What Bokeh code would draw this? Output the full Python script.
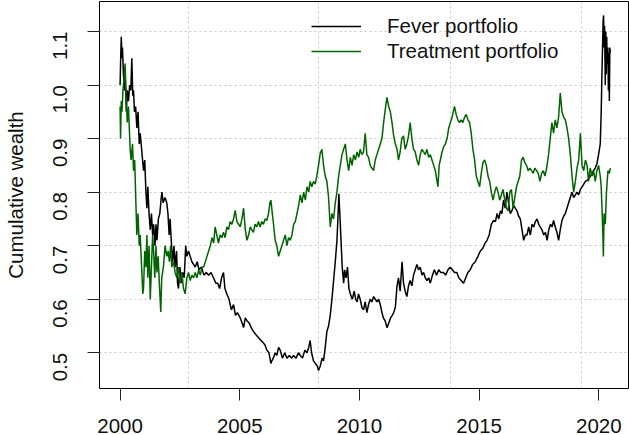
import math
from bokeh.plotting import figure
from bokeh.models import Range1d, FixedTicker, Legend, LegendItem
from bokeh.embed import file_html
from bokeh.resources import INLINE

# ---------------- data ----------------
fever_year = [
    2000.00, 2000.03, 2000.05, 2000.08, 2000.10, 2000.14, 2000.18, 2000.22, 2000.26, 2000.30,
    2000.35, 2000.40, 2000.45, 2000.49, 2000.53, 2000.56, 2000.60, 2000.65, 2000.70, 2000.75,
    2000.80, 2000.84, 2000.90, 2000.94, 2000.98, 2001.03, 2001.08, 2001.12, 2001.16, 2001.21,
    2001.26, 2001.31, 2001.36, 2001.40, 2001.46, 2001.50, 2001.54, 2001.60, 2001.66, 2001.72,
    2001.75, 2001.80, 2001.88, 2001.95, 2002.00, 2002.05, 2002.09, 2002.15, 2002.20, 2002.25,
    2002.30, 2002.36, 2002.40, 2002.44, 2002.50, 2002.56, 2002.62, 2002.68, 2002.74, 2002.79,
    2002.86, 2002.93, 2003.00, 2003.07, 2003.14, 2003.22, 2003.30, 2003.40, 2003.50, 2003.60,
    2003.70, 2003.80, 2003.90, 2004.00, 2004.08, 2004.16, 2004.24, 2004.32, 2004.38, 2004.46,
    2004.55, 2004.65, 2004.74, 2004.82, 2004.90, 2005.02, 2005.10, 2005.16, 2005.23, 2005.30,
    2005.40, 2005.50, 2005.57, 2005.65, 2005.75, 2005.85, 2005.95, 2006.05, 2006.13, 2006.22,
    2006.30, 2006.34, 2006.40, 2006.48, 2006.55, 2006.62, 2006.69, 2006.78, 2006.88, 2006.97,
    2007.07, 2007.17, 2007.25, 2007.35, 2007.45, 2007.53, 2007.62, 2007.72, 2007.81, 2007.88,
    2007.94, 2008.00, 2008.08, 2008.16, 2008.24, 2008.29, 2008.36, 2008.44, 2008.50, 2008.57,
    2008.64, 2008.71, 2008.78, 2008.85, 2008.92, 2008.99, 2009.06, 2009.10, 2009.14, 2009.18,
    2009.22, 2009.28, 2009.34, 2009.38, 2009.44, 2009.50, 2009.56, 2009.62, 2009.70, 2009.78,
    2009.84, 2009.90, 2009.96, 2010.03, 2010.10, 2010.17, 2010.24, 2010.31, 2010.38, 2010.45,
    2010.52, 2010.59, 2010.66, 2010.73, 2010.80, 2010.87, 2010.94, 2011.00, 2011.07, 2011.15,
    2011.22, 2011.30, 2011.37, 2011.43, 2011.50, 2011.57, 2011.63, 2011.70, 2011.78, 2011.84,
    2011.91, 2011.98, 2012.05, 2012.12, 2012.19, 2012.26, 2012.33, 2012.40, 2012.47, 2012.54,
    2012.61, 2012.68, 2012.75, 2012.82, 2012.89, 2012.96, 2013.05, 2013.13, 2013.22, 2013.31,
    2013.40, 2013.51, 2013.60, 2013.70, 2013.79, 2013.88, 2013.97, 2014.07, 2014.15, 2014.25,
    2014.35, 2014.44, 2014.53, 2014.63, 2014.73, 2014.84, 2014.95, 2015.05, 2015.15, 2015.25,
    2015.33, 2015.42, 2015.51, 2015.60, 2015.68, 2015.75, 2015.82, 2015.89, 2015.95, 2016.02,
    2016.09, 2016.16, 2016.23, 2016.30, 2016.37, 2016.44, 2016.51, 2016.58, 2016.65, 2016.72,
    2016.79, 2016.86, 2016.93, 2017.00, 2017.07, 2017.14, 2017.21, 2017.28, 2017.35, 2017.42,
    2017.49, 2017.55, 2017.62, 2017.70, 2017.77, 2017.84, 2017.91, 2017.98, 2018.05, 2018.11,
    2018.18, 2018.25, 2018.32, 2018.39, 2018.46, 2018.53, 2018.60, 2018.67, 2018.74, 2018.81,
    2018.88, 2018.95, 2019.02, 2019.09, 2019.16, 2019.23, 2019.30, 2019.37, 2019.44, 2019.51,
    2019.58, 2019.65, 2019.72, 2019.78, 2019.85, 2019.92, 2019.99, 2020.06, 2020.10, 2020.13,
    2020.16, 2020.18, 2020.20, 2020.22, 2020.24, 2020.27, 2020.29, 2020.31, 2020.33, 2020.35,
    2020.38, 2020.40, 2020.42, 2020.44, 2020.46, 2020.48,
]
fever_wealth = [
    1.00, 1.06, 1.09, 1.05, 1.07, 1.02, 0.99, 1.01, 0.95, 0.99,
    0.97, 1.00, 0.99, 1.05, 0.98, 0.99, 0.95, 0.96, 0.92, 0.95,
    0.89, 0.91, 0.88, 0.86, 0.84, 0.86, 0.80, 0.77, 0.81, 0.76,
    0.73, 0.76, 0.72, 0.74, 0.70, 0.74, 0.71, 0.75, 0.76, 0.79,
    0.80, 0.78, 0.79, 0.78, 0.76, 0.72, 0.75, 0.70, 0.67, 0.70,
    0.66, 0.69, 0.63, 0.62, 0.66, 0.63, 0.65, 0.64, 0.70, 0.68,
    0.69, 0.68, 0.67, 0.665, 0.66, 0.67, 0.655, 0.66, 0.645, 0.65,
    0.645, 0.65, 0.64, 0.63, 0.63, 0.62, 0.64, 0.65, 0.62, 0.61,
    0.60, 0.58, 0.59, 0.57, 0.575, 0.565, 0.555, 0.547, 0.565, 0.56,
    0.555, 0.545, 0.54, 0.535, 0.53, 0.525, 0.52, 0.515, 0.505, 0.50,
    0.48, 0.485, 0.49, 0.50, 0.495, 0.51, 0.505, 0.49, 0.50, 0.49,
    0.495, 0.49, 0.495, 0.49, 0.50, 0.495, 0.49, 0.505, 0.50, 0.51,
    0.523, 0.50, 0.485, 0.48, 0.475, 0.467, 0.475, 0.49, 0.485, 0.51,
    0.54, 0.55, 0.57, 0.60, 0.635, 0.67, 0.71, 0.75, 0.797, 0.76,
    0.72, 0.66, 0.63, 0.655, 0.64, 0.66, 0.62, 0.61, 0.60, 0.615,
    0.60, 0.595, 0.61, 0.60, 0.585, 0.58, 0.595, 0.575, 0.59, 0.60,
    0.595, 0.605, 0.60, 0.595, 0.60, 0.59, 0.575, 0.565, 0.56, 0.547,
    0.555, 0.565, 0.57, 0.575, 0.585, 0.625, 0.64, 0.615, 0.67, 0.63,
    0.615, 0.605, 0.625, 0.635, 0.625, 0.645, 0.655, 0.665, 0.655, 0.66,
    0.645, 0.65, 0.64, 0.635, 0.64, 0.63, 0.645, 0.655, 0.645, 0.655,
    0.65, 0.65, 0.645, 0.655, 0.66, 0.655, 0.65, 0.65, 0.64, 0.635,
    0.63, 0.64, 0.65, 0.655, 0.665, 0.67, 0.68, 0.69, 0.695, 0.705,
    0.71, 0.72, 0.74, 0.747, 0.745, 0.76, 0.75, 0.765, 0.76, 0.785,
    0.77, 0.80, 0.78, 0.76, 0.765, 0.775, 0.77, 0.765, 0.755, 0.75,
    0.73, 0.71, 0.72, 0.72, 0.735, 0.72, 0.74, 0.735, 0.745, 0.75,
    0.74, 0.735, 0.73, 0.72, 0.725, 0.71, 0.73, 0.74, 0.735, 0.747,
    0.735, 0.725, 0.71, 0.73, 0.747, 0.755, 0.76, 0.77, 0.78, 0.79,
    0.80, 0.79, 0.795, 0.80, 0.795, 0.805, 0.81, 0.815, 0.82, 0.822,
    0.825, 0.83, 0.835, 0.84, 0.845, 0.853, 0.87, 0.89, 0.95, 1.02,
    1.08, 1.12, 1.13, 1.07, 1.11, 1.00, 1.10, 1.02, 1.09, 1.04,
    1.07, 0.99, 1.06, 0.97, 1.07, 1.06,
]

treat_year = [
    2000.00, 2000.02, 2000.05, 2000.08, 2000.12, 2000.16, 2000.21, 2000.25, 2000.30, 2000.35,
    2000.42, 2000.46, 2000.52, 2000.56, 2000.61, 2000.66, 2000.70, 2000.75, 2000.80, 2000.84,
    2000.90, 2000.95, 2000.98, 2001.03, 2001.08, 2001.12, 2001.16, 2001.21, 2001.26, 2001.31,
    2001.36, 2001.40, 2001.45, 2001.50, 2001.54, 2001.59, 2001.65, 2001.70, 2001.74, 2001.81,
    2001.88, 2001.95, 2002.01, 2002.06, 2002.11, 2002.16, 2002.23, 2002.30, 2002.37, 2002.44,
    2002.51, 2002.58, 2002.65, 2002.72, 2002.79, 2002.86, 2002.93, 2003.00, 2003.07, 2003.14,
    2003.21, 2003.28, 2003.35, 2003.42, 2003.49, 2003.56, 2003.63, 2003.70, 2003.77, 2003.84,
    2003.91, 2003.97, 2004.04, 2004.11, 2004.18, 2004.25, 2004.32, 2004.39, 2004.46, 2004.53,
    2004.60, 2004.67, 2004.74, 2004.81, 2004.88, 2004.95, 2005.02, 2005.09, 2005.16, 2005.23,
    2005.30, 2005.37, 2005.44, 2005.50, 2005.57, 2005.64, 2005.71, 2005.78, 2005.85, 2005.92,
    2005.99, 2006.06, 2006.13, 2006.20, 2006.26, 2006.30, 2006.36, 2006.41, 2006.48, 2006.55,
    2006.62, 2006.69, 2006.76, 2006.83, 2006.90, 2006.97, 2007.04, 2007.11, 2007.18, 2007.25,
    2007.32, 2007.39, 2007.46, 2007.53, 2007.60, 2007.67, 2007.74, 2007.81, 2007.88, 2007.94,
    2008.01, 2008.08, 2008.15, 2008.22, 2008.29, 2008.36, 2008.43, 2008.50, 2008.57, 2008.64,
    2008.71, 2008.78, 2008.85, 2008.92, 2008.99, 2009.06, 2009.13, 2009.20, 2009.27, 2009.34,
    2009.41, 2009.48, 2009.55, 2009.62, 2009.69, 2009.76, 2009.83, 2009.90, 2009.97, 2010.03,
    2010.10, 2010.17, 2010.24, 2010.31, 2010.38, 2010.45, 2010.52, 2010.59, 2010.66, 2010.73,
    2010.80, 2010.87, 2010.94, 2011.01, 2011.08, 2011.15, 2011.22, 2011.29, 2011.36, 2011.43,
    2011.50, 2011.57, 2011.63, 2011.70, 2011.77, 2011.84, 2011.91, 2011.98, 2012.05, 2012.12,
    2012.19, 2012.26, 2012.33, 2012.40, 2012.47, 2012.54, 2012.61, 2012.68, 2012.75, 2012.82,
    2012.89, 2012.96, 2013.03, 2013.10, 2013.17, 2013.28, 2013.33, 2013.38, 2013.45, 2013.52,
    2013.59, 2013.66, 2013.73, 2013.80, 2013.87, 2013.97, 2014.04, 2014.11, 2014.18, 2014.25,
    2014.32, 2014.39, 2014.46, 2014.53, 2014.60, 2014.67, 2014.74, 2014.81, 2014.88, 2014.95,
    2015.02, 2015.09, 2015.16, 2015.23, 2015.30, 2015.37, 2015.44, 2015.51, 2015.58, 2015.65,
    2015.72, 2015.79, 2015.86, 2015.93, 2016.00, 2016.07, 2016.14, 2016.21, 2016.28, 2016.35,
    2016.42, 2016.49, 2016.56, 2016.63, 2016.70, 2016.77, 2016.84, 2016.91, 2016.98, 2017.05,
    2017.12, 2017.19, 2017.26, 2017.33, 2017.40, 2017.47, 2017.54, 2017.61, 2017.68, 2017.75,
    2017.82, 2017.90, 2017.97, 2018.04, 2018.11, 2018.18, 2018.25, 2018.32, 2018.39, 2018.46,
    2018.53, 2018.60, 2018.67, 2018.74, 2018.81, 2018.88, 2018.95, 2019.02, 2019.09, 2019.16,
    2019.23, 2019.30, 2019.37, 2019.44, 2019.51, 2019.57, 2019.64, 2019.72, 2019.78, 2019.85,
    2019.92, 2019.99, 2020.06, 2020.10, 2020.14, 2020.17, 2020.19, 2020.22, 2020.27, 2020.32,
    2020.38, 2020.44, 2020.48,
]
treat_wealth = [
    0.96, 0.90, 0.97, 0.95, 0.99, 1.01, 1.04, 0.98, 0.93, 0.96,
    0.88, 0.86, 0.89, 0.84, 0.86, 0.78, 0.72, 0.76, 0.70, 0.72,
    0.66, 0.61, 0.62, 0.69, 0.66, 0.72, 0.64, 0.70, 0.60, 0.66,
    0.72, 0.69, 0.64, 0.70, 0.65, 0.68, 0.62, 0.576, 0.64, 0.66,
    0.70, 0.68, 0.69, 0.67, 0.70, 0.66, 0.67, 0.65, 0.64, 0.66,
    0.63, 0.65, 0.62, 0.61, 0.64, 0.65, 0.635, 0.645, 0.64, 0.65,
    0.64, 0.655, 0.645, 0.66, 0.66, 0.67, 0.68, 0.69, 0.70, 0.715,
    0.705, 0.735, 0.72, 0.705, 0.72, 0.715, 0.725, 0.715, 0.735, 0.73,
    0.745, 0.74, 0.75, 0.766, 0.745, 0.74, 0.735, 0.75, 0.77, 0.73,
    0.71, 0.72, 0.735, 0.73, 0.725, 0.74, 0.735, 0.745, 0.735, 0.745,
    0.74, 0.75, 0.747, 0.76, 0.78, 0.785, 0.76, 0.74, 0.71, 0.70,
    0.68, 0.69, 0.70, 0.71, 0.72, 0.70, 0.715, 0.71, 0.72, 0.74,
    0.745, 0.76, 0.775, 0.795, 0.78, 0.80, 0.785, 0.81, 0.80, 0.82,
    0.81, 0.82, 0.815, 0.83, 0.85, 0.872, 0.88, 0.85, 0.83, 0.82,
    0.79, 0.735, 0.76, 0.75, 0.78, 0.80, 0.83, 0.85, 0.87, 0.88,
    0.89, 0.86, 0.84, 0.865, 0.85, 0.87, 0.86, 0.875, 0.865, 0.88,
    0.87, 0.875, 0.91, 0.87, 0.865, 0.85, 0.845, 0.84, 0.86, 0.87,
    0.88, 0.89, 0.90, 0.93, 0.955, 0.977, 0.96, 0.95, 0.93, 0.905,
    0.89, 0.88, 0.86, 0.875, 0.90, 0.905, 0.88, 0.89, 0.905, 0.93,
    0.90, 0.88, 0.875, 0.86, 0.85, 0.87, 0.88, 0.875, 0.87, 0.88,
    0.865, 0.87, 0.86, 0.85, 0.84, 0.81, 0.85, 0.86, 0.875, 0.885,
    0.89, 0.90, 0.92, 0.93, 0.94, 0.96, 0.945, 0.935, 0.93, 0.935,
    0.93, 0.94, 0.945, 0.935, 0.93, 0.91, 0.88, 0.86, 0.83, 0.82,
    0.81, 0.835, 0.855, 0.86, 0.85, 0.83, 0.82, 0.80, 0.785, 0.80,
    0.81, 0.80, 0.785, 0.795, 0.805, 0.785, 0.77, 0.765, 0.80, 0.805,
    0.77, 0.79, 0.81, 0.82, 0.83, 0.86, 0.865, 0.855, 0.85, 0.84,
    0.845, 0.84, 0.835, 0.845, 0.84, 0.835, 0.82, 0.835, 0.84, 0.83,
    0.845, 0.87, 0.90, 0.93, 0.91, 0.935, 0.92, 0.94, 0.985, 0.95,
    0.94, 0.935, 0.92, 0.90, 0.87, 0.83, 0.80, 0.82, 0.845, 0.86,
    0.91, 0.85, 0.84, 0.86, 0.85, 0.82, 0.845, 0.83, 0.84, 0.82,
    0.84, 0.85, 0.83, 0.81, 0.76, 0.72, 0.68, 0.76, 0.74, 0.80,
    0.84, 0.835, 0.845,
]

series_labels = ["Fever portfolio", "Treatment portfolio"]
x_tick_values = [2000, 2005, 2010, 2015, 2020]
x_tick_labels = ["2000", "2005", "2010", "2015", "2020"]
y_tick_values = [0.5, 0.6, 0.7, 0.8, 0.9, 1.0, 1.1]
y_tick_labels = ["0.5", "0.6", "0.7", "0.8", "0.9", "1.0", "1.1"]
x_grid_values = [2002.84, 2008.30, 2013.80, 2019.27]
y_axis_title = "Cumulative wealth"

# ---------------- figure ----------------
FONT = "Liberation Sans"
FS = "20.5px"
TXT = "#111111"

p = figure(
    width=629, height=435,
    output_backend="svg", toolbar_location=None,
    x_range=Range1d(1999.14, 2021.24), y_range=Range1d(0.4333, 1.156),
    min_border_left=99, min_border_right=1, min_border_top=1, min_border_bottom=46,
)
p.background_fill_color = "white"
p.border_fill_color = "white"
p.outline_line_color = "black"
p.outline_line_width = 1
p.outline_line_alpha = 1.0

# grid
p.xgrid.ticker = FixedTicker(ticks=x_grid_values)
p.ygrid.ticker = FixedTicker(ticks=y_tick_values)
for g in (p.xgrid, p.ygrid):
    g.grid_line_color = "#c8c8c8"
    g.grid_line_dash = "2 3"
    g.grid_line_width = 1

# axes
xa = p.xaxis[0]
xa.ticker = FixedTicker(ticks=x_tick_values)
xa.major_label_overrides = {v: s for v, s in zip(x_tick_values, x_tick_labels)}
ya = p.yaxis[0]
ya.ticker = FixedTicker(ticks=y_tick_values)
ya.major_label_overrides = {v: s for v, s in zip(y_tick_values, y_tick_labels)}
ya.major_label_orientation = math.pi / 2
ya.axis_label = y_axis_title
for ax in (xa, ya):
    ax.axis_line_color = None
    ax.major_tick_out = 12
    ax.major_tick_in = 0
    ax.major_tick_line_color = "#222222"
    ax.minor_tick_line_color = None
    ax.major_label_text_font = FONT
    ax.major_label_text_font_size = FS
    ax.major_label_text_color = TXT
    ax.axis_label_text_font = FONT
    ax.axis_label_text_font_size = FS
    ax.axis_label_text_font_style = "normal"
    ax.axis_label_text_color = TXT
xa.major_label_text_line_height = 0.8
xa.major_label_standoff = 18
ya.major_label_standoff = 27
ya.axis_label_standoff = 17

# series
r_fever = p.line(fever_year, fever_wealth, line_color="black", line_width=1.5)
r_treat = p.line(treat_year, treat_wealth, line_color="#006400", line_width=1.5)

legend = Legend(
    items=[LegendItem(label=series_labels[0], renderers=[r_fever]),
           LegendItem(label=series_labels[1], renderers=[r_treat])],
    location=(212, 325),
    border_line_color=None, background_fill_alpha=0,
    padding=0, margin=0, spacing=1,
    glyph_width=50, glyph_height=20, label_height=20,
    label_standoff=26,
    label_text_font=FONT, label_text_font_size=FS, label_text_color=TXT,
)
p.add_layout(legend)

open("out.html", "w").write(file_html(p, INLINE))
